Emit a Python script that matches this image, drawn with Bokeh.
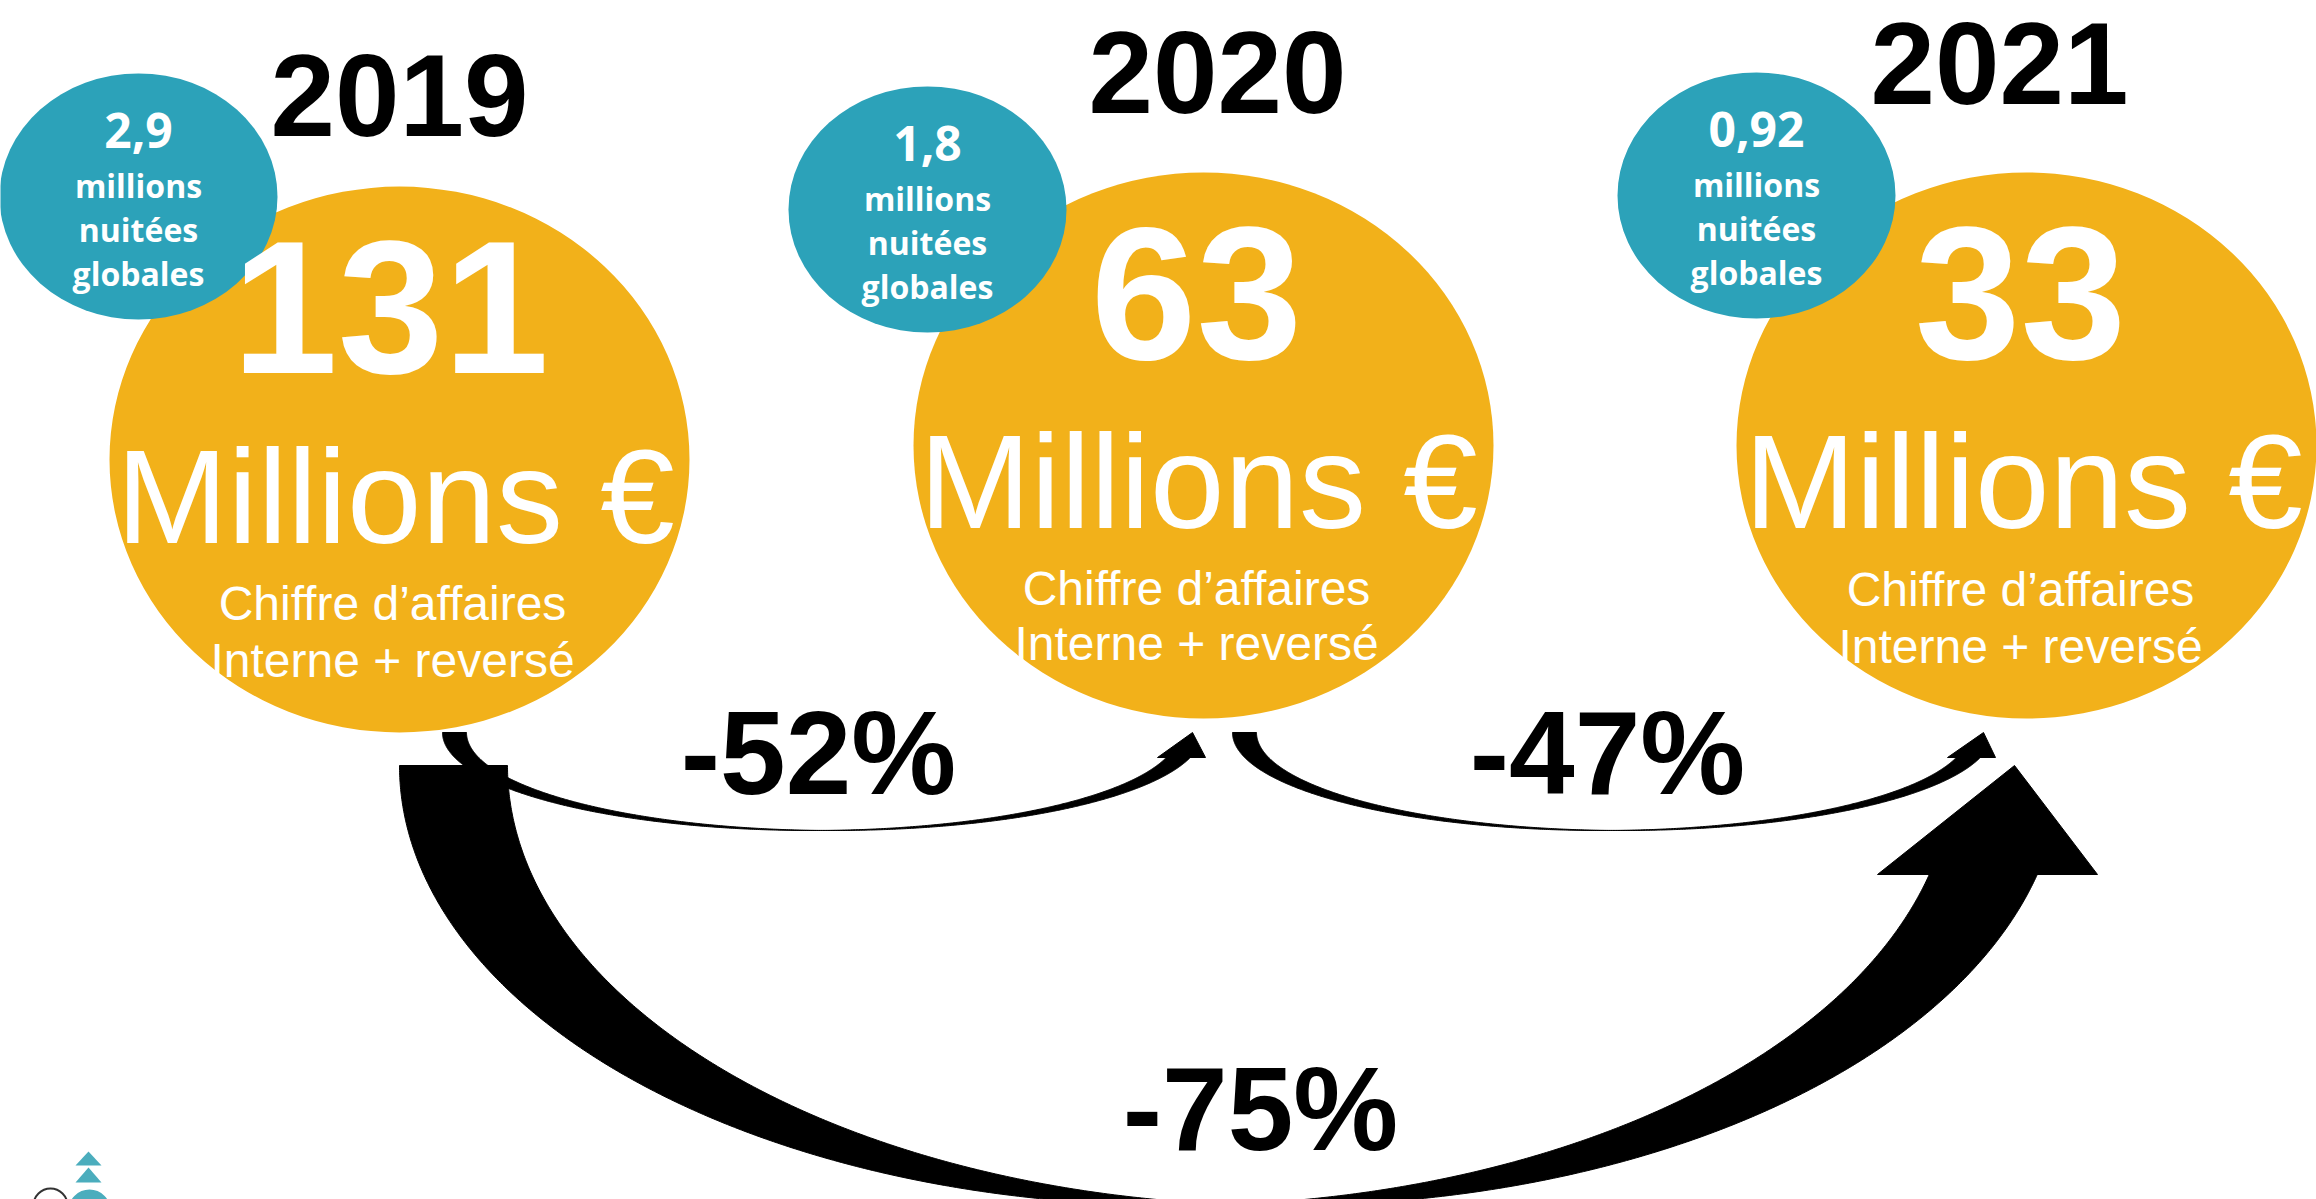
import numpy as np
from bokeh.plotting import figure
from bokeh.models import Range1d, ColumnDataSource
from bokeh.core.properties import value
from bokeh.embed import file_html
from bokeh.resources import INLINE

# ---------------- data ----------------
years = ["2019", "2020", "2021"]
revenue_millions = ["131", "63", "33"]
revenue_unit = "Millions €"
revenue_caption = ["Chiffre d’affaires", "Interne + reversé"]
nights_millions = ["2,9", "1,8", "0,92"]
nights_caption = ["millions", "nuitées", "globales"]
change_labels = ["-52%", "-47%", "-75%"]

# ---------------- layout / style ----------------
ORANGE = "#F2B11A"
TEAL = "#2CA2B9"
LOGO_TEAL = "#4BADBD"

big_cx = [399, 1203, 2026]
big_cy = [459, 445, 445]
small_cx = [138, 927, 1756]
small_cy = [196, 209, 195]

year_x = [399, 1217, 1999]
year_y = [136, 113, 104]
num_x = [390, 1196, 2020]
num_y = [373, 359, 359]
unit_x = [395, 1198, 2023]
unit_y = [543, 528, 528]
cap_x = [392, 1196, 2020]
cap_y1 = [620, 605, 606]
cap_y2 = [677, 660, 663]

change_x = [818, 1607, 1260]
change_y = [794, 794, 1150]

W, H = 2316, 1199
p = figure(width=W, height=H, x_range=Range1d(0, W), y_range=Range1d(H, 0),
           output_backend="svg", toolbar_location=None,
           x_axis_location=None, y_axis_location=None, min_border=0)
p.grid.visible = False
p.outline_line_color = None
p.background_fill_color = "white"
p.border_fill_color = "white"

# orange circles
p.ellipse(x=big_cx, y=big_cy, width=580, height=546, fill_color=ORANGE, line_color=None)
# teal circles
p.ellipse(x=small_cx, y=small_cy, width=278, height=246, fill_color=TEAL, line_color=None)


def curved_arrow(cA, top, a, b, d, y_hb, head):
    tXA = np.arccos(d / (2 * a))
    tXB = np.arccos(-d / (2 * a))
    thb = np.arcsin((y_hb - top) / b)
    tA = np.linspace(np.pi, tXA, 300)
    tB = np.linspace(tXB, np.pi, 300)
    xl = np.concatenate([cA + a * np.cos(tA), cA + d + a * np.cos(tB)])
    yl = np.concatenate([top + b * np.sin(tA), top + b * np.sin(tB)])
    tB2 = np.linspace(tXB, thb, 300)
    tA2 = np.linspace(thb, tXA, 300)
    xr = np.concatenate([cA + d + a * np.cos(tB2), cA + a * np.cos(tA2)])
    yr = np.concatenate([top + b * np.sin(tB2), top + b * np.sin(tA2)])
    hx = [head[0][0], head[1][0], head[2][0]]
    hy = [head[0][1], head[1][1], head[2][1]]
    return [list(xl), list(xr), hx], [list(yl), list(yr), hy]


xs, ys = [], []
for cA, tip_x in [(810, 1192), (1600, 1983)]:
    off = cA - 810
    ax, ay = curved_arrow(cA, 732, 368, 98, 24, 757,
                          [(1157 + off, 757), (1205 + off, 757), (tip_x, 732)])
    xs += ax
    ys += ay
ax, ay = curved_arrow(1176, 765, 777, 440, 108, 874,
                      [(1877, 874), (2097, 874), (2014, 765)])
xs += ax
ys += ay
p.patches(xs=xs, ys=ys, fill_color="black", line_color="black", line_width=1)

# logo fragment (bottom-left)
p.patches(xs=[[75, 101, 88], [75, 101, 88]], ys=[[1165, 1165, 1151], [1182, 1182, 1167]],
          fill_color=LOGO_TEAL, line_color=None)
p.annulus(x=[89], y=[1210], inner_radius=9, outer_radius=21, fill_color=LOGO_TEAL, line_color=None)
p.circle(x=[50], y=[1205], radius=17, fill_color=None, line_color="#333333", line_width=2)

SANS = value("Liberation Sans")
SHIFT = 0.35  # baseline correction, in em


def txt(xv, yv, labels, size, color, style="normal", font=SANS):
    s = float(size.replace("px", ""))
    src = ColumnDataSource(dict(x=xv, y=[v - SHIFT * s for v in yv], t=labels))
    p.text(x="x", y="y", text="t", source=src, text_font=font, text_font_size=value(size),
           text_font_style=style, text_color=color, text_align="center",
           text_baseline="alphabetic")


txt(year_x, year_y, years, "116px", "black", "bold")
txt(num_x, num_y, revenue_millions, "190px", "white", "bold")
txt(unit_x, unit_y, [revenue_unit] * 3, "134px", "white")
txt(cap_x, cap_y1, [revenue_caption[0]] * 3, "48px", "white")
txt(cap_x, cap_y2, [revenue_caption[1]] * 3, "48px", "white")

OS = value("Open Sans")
txt(small_cx, [c - 49 for c in small_cy], nights_millions, "48px", "white", "bold", OS)
for k, line in enumerate(nights_caption):
    txt(small_cx, [c + 44 * k for c in small_cy], [line] * 3, "32px", "white", "bold", OS)

txt(change_x, change_y, change_labels, "118px", "black", "bold")

open("out.html", "w").write(file_html(p, INLINE))
